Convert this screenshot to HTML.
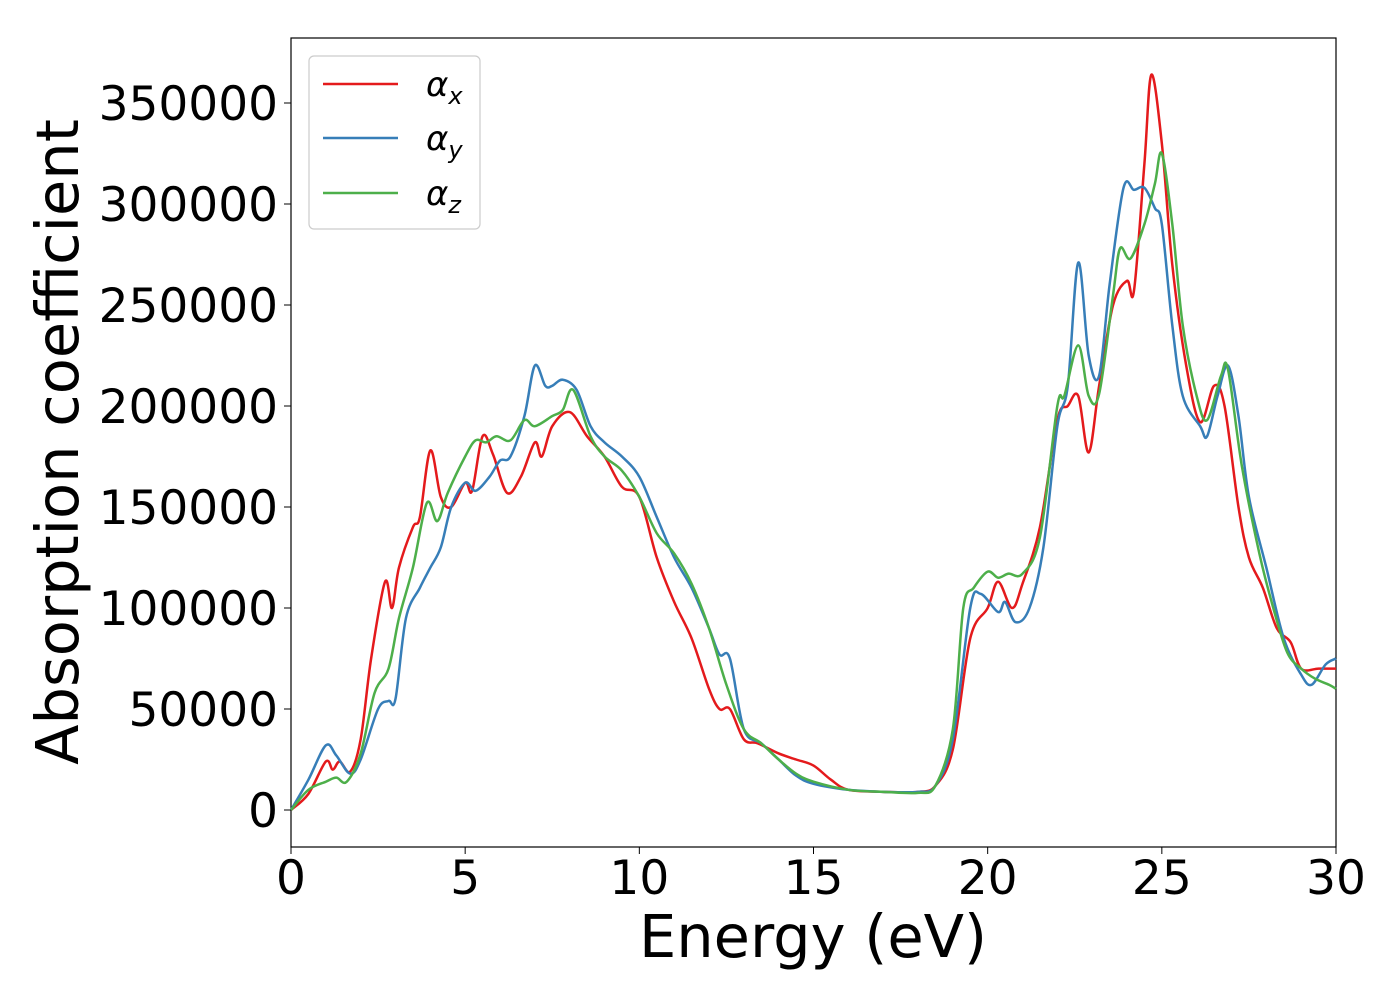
<!DOCTYPE html>
<html><head><meta charset="utf-8"><style>
body{margin:0;background:#fff;}
svg{font-family:"DejaVu Sans","Liberation Sans",sans-serif;}
</style></head><body>
<svg id="chart" width="1400" height="1000">
<rect x="291" y="38" width="1045" height="809" fill="none" stroke="#000" stroke-width="1.2"/>
<g id="xt"></g>
<g id="yt"></g>
<g id="series"></g>
<text x="813" y="957" font-size="59" text-anchor="middle">Energy (eV)</text>
<text transform="translate(78,442) rotate(-90)" font-size="59" text-anchor="middle">Absorption coefficient</text>
<g>
<rect x="309" y="56" width="171" height="173" rx="5" fill="#fff" stroke="#ccc" stroke-width="1.2"/>
<g><line x1="323" y1="84" x2="398" y2="84" stroke="#e41a1c" stroke-width="2.5"/><text x="426" y="96" font-size="34" font-style="italic">α<tspan font-size="24" dy="8">x</tspan></text></g>
<g><line x1="323" y1="138" x2="398" y2="138" stroke="#377eb8" stroke-width="2.5"/><text x="426" y="150" font-size="34" font-style="italic">α<tspan font-size="24" dy="8">y</tspan></text></g>
<g><line x1="323" y1="193" x2="398" y2="193" stroke="#4daf4a" stroke-width="2.5"/><text x="426" y="205" font-size="34" font-style="italic">α<tspan font-size="24" dy="8">z</tspan></text></g>
</g>
</svg>
<script>
const xTicks=[0,5,10,15,20,25,30];
const yTicks=[0,50000,100000,150000,200000,250000,300000,350000];
const xsX=[0,0.5,1.0,1.2,1.4,1.7,2.0,2.3,2.7,2.9,3.1,3.5,3.7,4.0,4.3,4.6,5.0,5.2,5.5,5.8,6.2,6.6,7.0,7.2,7.5,8.0,8.5,9.0,9.5,10.0,10.5,11.0,11.5,12.0,12.3,12.6,13.0,13.4,14.0,14.5,15.0,15.5,16,17,18,18.5,19,19.5,20,20.3,20.7,21,21.5,22,22.3,22.6,22.9,23.2,23.6,24,24.2,24.5,24.7,25.0,25.3,25.7,26.1,26.5,26.8,27.2,27.5,27.9,28.3,28.7,29,29.5,30];
const ysX=[0,8000,24000,20000,24000,19000,35000,75000,113000,100000,120000,140000,145000,178000,155000,150000,162000,158000,185000,176000,157000,165000,182000,175000,190000,197000,185000,175000,160000,155000,125000,103000,85000,60000,50000,50000,35000,33000,28000,25000,22000,15000,10000,9000,9000,12000,30000,85000,100000,113000,100000,112000,140000,193000,200000,205000,177000,210000,250000,262000,257000,320000,364000,330000,270000,220000,192000,210000,200000,150000,125000,110000,90000,83000,70000,70000,70000];
const xsY=[0,0.5,1.0,1.3,1.7,2.0,2.5,2.8,3.0,3.3,3.7,4.0,4.3,4.6,5.0,5.3,5.7,6.0,6.3,6.7,7.0,7.3,7.5,7.8,8.2,8.6,9.0,9.5,10,10.5,11,11.5,12,12.3,12.6,13,13.5,14,14.5,15,16,17,18,18.5,19,19.5,19.8,20.3,20.5,20.8,21.2,21.6,22.0,22.3,22.6,22.9,23.2,23.5,23.9,24.2,24.5,24.8,25.0,25.3,25.6,26.1,26.3,26.6,26.9,27.2,27.5,28,28.5,29,29.3,29.7,30];
const ysY=[0,15000,32000,27000,18000,25000,50000,54000,55000,95000,110000,120000,130000,150000,162000,158000,165000,173000,175000,195000,220000,210000,210000,213000,208000,190000,182000,175000,165000,145000,125000,110000,90000,77000,75000,40000,33000,25000,17000,13000,10000,9000,9000,12000,35000,100000,107000,98000,103000,93000,100000,130000,190000,210000,271000,225000,215000,260000,308000,307000,308000,298000,290000,240000,205000,190000,185000,205000,220000,195000,155000,120000,85000,67000,62000,72000,75000];
const xsZ=[0,0.5,1.0,1.3,1.6,2.0,2.4,2.8,3.1,3.5,3.9,4.2,4.5,5.0,5.3,5.6,5.9,6.3,6.7,7.0,7.5,7.8,8.1,8.6,9.0,9.5,10,10.5,11,11.5,12,12.5,13,13.5,14,14.5,15,16,17,18,18.5,19,19.3,19.6,20,20.3,20.6,21,21.5,22,22.2,22.6,22.9,23.2,23.6,23.8,24.1,24.5,24.8,25.0,25.3,25.6,26,26.3,26.7,26.9,27.3,27.8,28.2,28.6,29,29.4,29.8,30];
const ysZ=[0,10000,14000,16000,14000,28000,58000,70000,95000,120000,152000,143000,157000,175000,183000,182000,185000,183000,193000,190000,195000,198000,208000,185000,175000,168000,155000,137000,127000,112000,90000,62000,40000,33000,25000,18000,14000,10000,9000,8500,12000,40000,100000,110000,118000,115000,117000,117000,135000,200000,205000,230000,205000,206000,255000,278000,273000,290000,310000,325000,290000,240000,205000,193000,215000,218000,170000,127000,100000,78000,70000,65000,62000,60000];
const NS="http://www.w3.org/2000/svg";
const X=v=>291+v*(1045/30);
const Y=v=>810-v*(707/350000);
const xt=document.getElementById('xt'),yt=document.getElementById('yt'),sg=document.getElementById('series');
xTicks.forEach(t=>{
 const l=document.createElementNS(NS,'line');l.setAttribute('x1',X(t));l.setAttribute('x2',X(t));l.setAttribute('y1',847);l.setAttribute('y2',854);l.setAttribute('stroke','#000');
 
 
 xt.appendChild(l);
 const s=document.createElementNS(NS,'text');s.setAttribute('x',X(t));s.setAttribute('y',894);s.setAttribute('font-size','47');s.setAttribute('text-anchor','middle');s.textContent=t;
 
 
 xt.appendChild(s);
});
yTicks.forEach(t=>{
 const l=document.createElementNS(NS,'line');l.setAttribute('x1',284);l.setAttribute('x2',291);l.setAttribute('y1',Y(t));l.setAttribute('y2',Y(t));l.setAttribute('stroke','#000');
 
 
 yt.appendChild(l);
 const s=document.createElementNS(NS,'text');s.setAttribute('x',278);s.setAttribute('y',Y(t)+17);s.setAttribute('font-size','47');s.setAttribute('text-anchor','end');s.textContent=t;
 
 
 yt.appendChild(s);
});
function path(xs,ys){
 const p=xs.map((x,i)=>[X(x),Y(ys[i])]);
 let d='M'+p[0][0]+','+p[0][1];
 for(let i=0;i<p.length-1;i++){
  const p0=p[i-1]||p[i],p1=p[i],p2=p[i+1],p3=p[i+2]||p2;
  const c1=[p1[0]+(p2[0]-p0[0])/6,p1[1]+(p2[1]-p0[1])/6];
  const c2=[p2[0]-(p3[0]-p1[0])/6,p2[1]-(p3[1]-p1[1])/6];
  d+=' C'+c1+' '+c2+' '+p2;
 }
 return d;
}
[[xsX,ysX,'#e41a1c','series-alpha-x'],[xsY,ysY,'#377eb8','series-alpha-y'],[xsZ,ysZ,'#4daf4a','series-alpha-z']].forEach(s=>{
 const e=document.createElementNS(NS,'path');e.setAttribute('d',path(s[0],s[1]));e.setAttribute('fill','none');e.setAttribute('stroke',s[2]);e.setAttribute('stroke-width','2.5');
 
 
 sg.appendChild(e);
});
</script>
</body></html>
